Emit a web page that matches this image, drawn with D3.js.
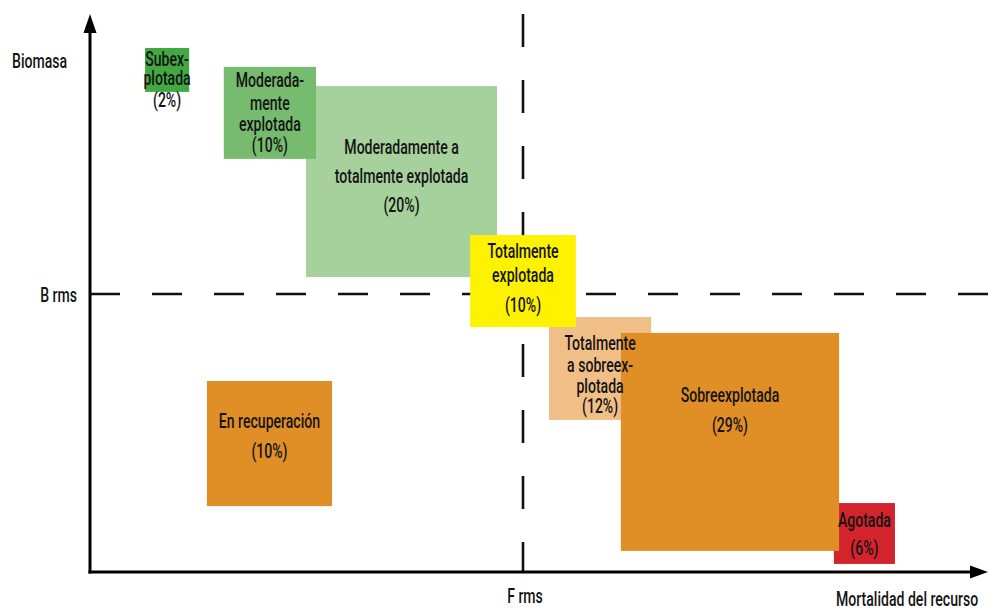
<!DOCTYPE html>
<html>
<head>
<meta charset="utf-8">
<script src="https://cdn.jsdelivr.net/npm/d3@7"></script>
<style>
  html, body { margin: 0; padding: 0; background: #fff; }
  text { font-family: Roboto, "Noto Sans", sans-serif; fill: #141414; font-weight: 500; }
</style>
</head>
<body>
<div id="chart"></div>
<script>
// status categories, share of stocks (%), label lines
var categories = ["Moderadamente a totalmente explotada", "Moderadamente explotada", "Subexplotada",
                  "Totalmente a sobreexplotada", "Totalmente explotada", "Agotada", "Sobreexplotada", "En recuperación"];
var shares = [20, 10, 2, 12, 10, 6, 29, 10];
var labelLines = [
    ["Moderadamente a", "totalmente explotada"],
    ["Moderada-", "mente", "explotada"],
    ["Subex-", "plotada"],
    ["Totalmente", "a sobreex-", "plotada"],
    ["Totalmente", "explotada"],
    ["Agotada"],
    ["Sobreexplotada"],
    ["En recuperación"]
];
// extent of each box: fishing mortality as F/Frms, biomass as B/Brms
var fFrom = [0.499, 0.309, 0.127, 1.060, 0.878, 1.718, 1.226, 0.270];
var fTo   = [0.940, 0.522, 0.229, 1.296, 1.122, 1.859, 1.730, 0.559];
var bFrom = [1.061, 1.486, 1.727, 0.547, 0.881, 0.029, 0.076, 0.237];
var bTo   = [1.748, 1.817, 1.885, 0.917, 1.212, 0.248, 0.860, 0.687];
var colors = ["#a6d19c", "#76bb6e", "#41a843", "#f0bf88", "#fff200", "#d3242d", "#e08e26", "#e08e26"];

// reference points on the axes
var refF = 1, refB = 1;
var refFLabel = "F rms", refBLabel = "B rms";
var xTitle = "Mortalidad del recurso", yTitle = "Biomasa";

const WIDTH = 995;
const HEIGHT = 610;
const FONT = 21;
const SQUEEZE = 0.67;   // condensed look

// label layout per box: first baseline below box top, line steps
var labelLayout = [
    {first: 68, steps: [29, 29]},
    {first: 20, steps: [23, 21, 21]},
    {first: 18, steps: [19, 22]},
    {first: 33, steps: [22, 21, 20]},
    {first: 23, steps: [24, 30]},
    {first: 24, steps: [28]},
    {first: 69, steps: [30]},
    {first: 47, steps: [30]}
];

var xScale = d3.scaleLinear().domain([0, 2]).range([90, 956]),
    yScale = d3.scaleLinear().domain([0, 2]).range([572, 16]);

var svg = d3.select("#chart")
    .append("svg")
    .attr("width", WIDTH)
    .attr("height", HEIGHT);

function label(g, lines, x, y, anchor, steps) {
    var t = g.append("text")
        .attr("transform", "translate(" + x + "," + y + ") scale(" + SQUEEZE + ",1)")
        .attr("text-anchor", anchor || "middle")
        .style("font-size", FONT + "px");
    [].concat(lines).forEach(function (s, k) {
        t.append("tspan")
            .attr("x", 0)
            .attr("dy", k === 0 ? 0 : steps[k - 1])
            .text(s);
    });
    return t;
}

// reference lines
svg.append("line")
    .attr("x1", xScale(0)).attr("x2", 988)
    .attr("y1", yScale(refB)).attr("y2", yScale(refB))
    .attr("stroke", "#111").attr("stroke-width", 2.6)
    .attr("stroke-dasharray", "30,32");

svg.append("line")
    .attr("x1", xScale(refF)).attr("x2", xScale(refF))
    .attr("y1", 14).attr("y2", yScale(0))
    .attr("stroke", "#111").attr("stroke-width", 2.6)
    .attr("stroke-dasharray", "33,33");

// boxes
var idx = d3.range(categories.length);
svg.append("g")
    .selectAll("rect")
    .data(idx)
    .enter()
    .append("rect")
    .attr("x", function (i) { return xScale(fFrom[i]); })
    .attr("y", function (i) { return yScale(bTo[i]); })
    .attr("width", function (i) { return xScale(fTo[i]) - xScale(fFrom[i]); })
    .attr("height", function (i) { return yScale(bFrom[i]) - yScale(bTo[i]); })
    .attr("fill", function (i) { return colors[i]; });

// box labels
var lg = svg.append("g");
idx.forEach(function (i) {
    var cx = (xScale(fFrom[i]) + xScale(fTo[i])) / 2;
    var y = yScale(bTo[i]) + labelLayout[i].first;
    var lines = labelLines[i].concat(["(" + shares[i] + "%)"]);
    label(lg, lines, cx, y, "middle", labelLayout[i].steps);
});

// axes with arrow heads
svg.append("line")
    .attr("x1", xScale(0)).attr("x2", xScale(0))
    .attr("y1", yScale(0) + 1.5).attr("y2", 30)
    .attr("stroke", "#000").attr("stroke-width", 3);
svg.append("line")
    .attr("x1", xScale(0) - 1.5).attr("x2", 972)
    .attr("y1", yScale(0)).attr("y2", yScale(0))
    .attr("stroke", "#000").attr("stroke-width", 3);
svg.append("path")
    .attr("d", "M" + xScale(0) + ",14 L" + (xScale(0) - 6.5) + ",33 L" + (xScale(0) + 6.5) + ",33 Z")
    .attr("fill", "#000");
svg.append("path")
    .attr("d", "M988," + yScale(0) + " L970," + (yScale(0) - 6.5) + " L970," + (yScale(0) + 6.5) + " Z")
    .attr("fill", "#000");

// axis texts
label(svg, yTitle, 12, 68, "start");
label(svg, refBLabel, 77, yScale(refB) + 8, "end");
label(svg, refFLabel, xScale(refF) + 2, 603);
label(svg, xTitle, 836, 606, "start");
</script>
</body>
</html>
